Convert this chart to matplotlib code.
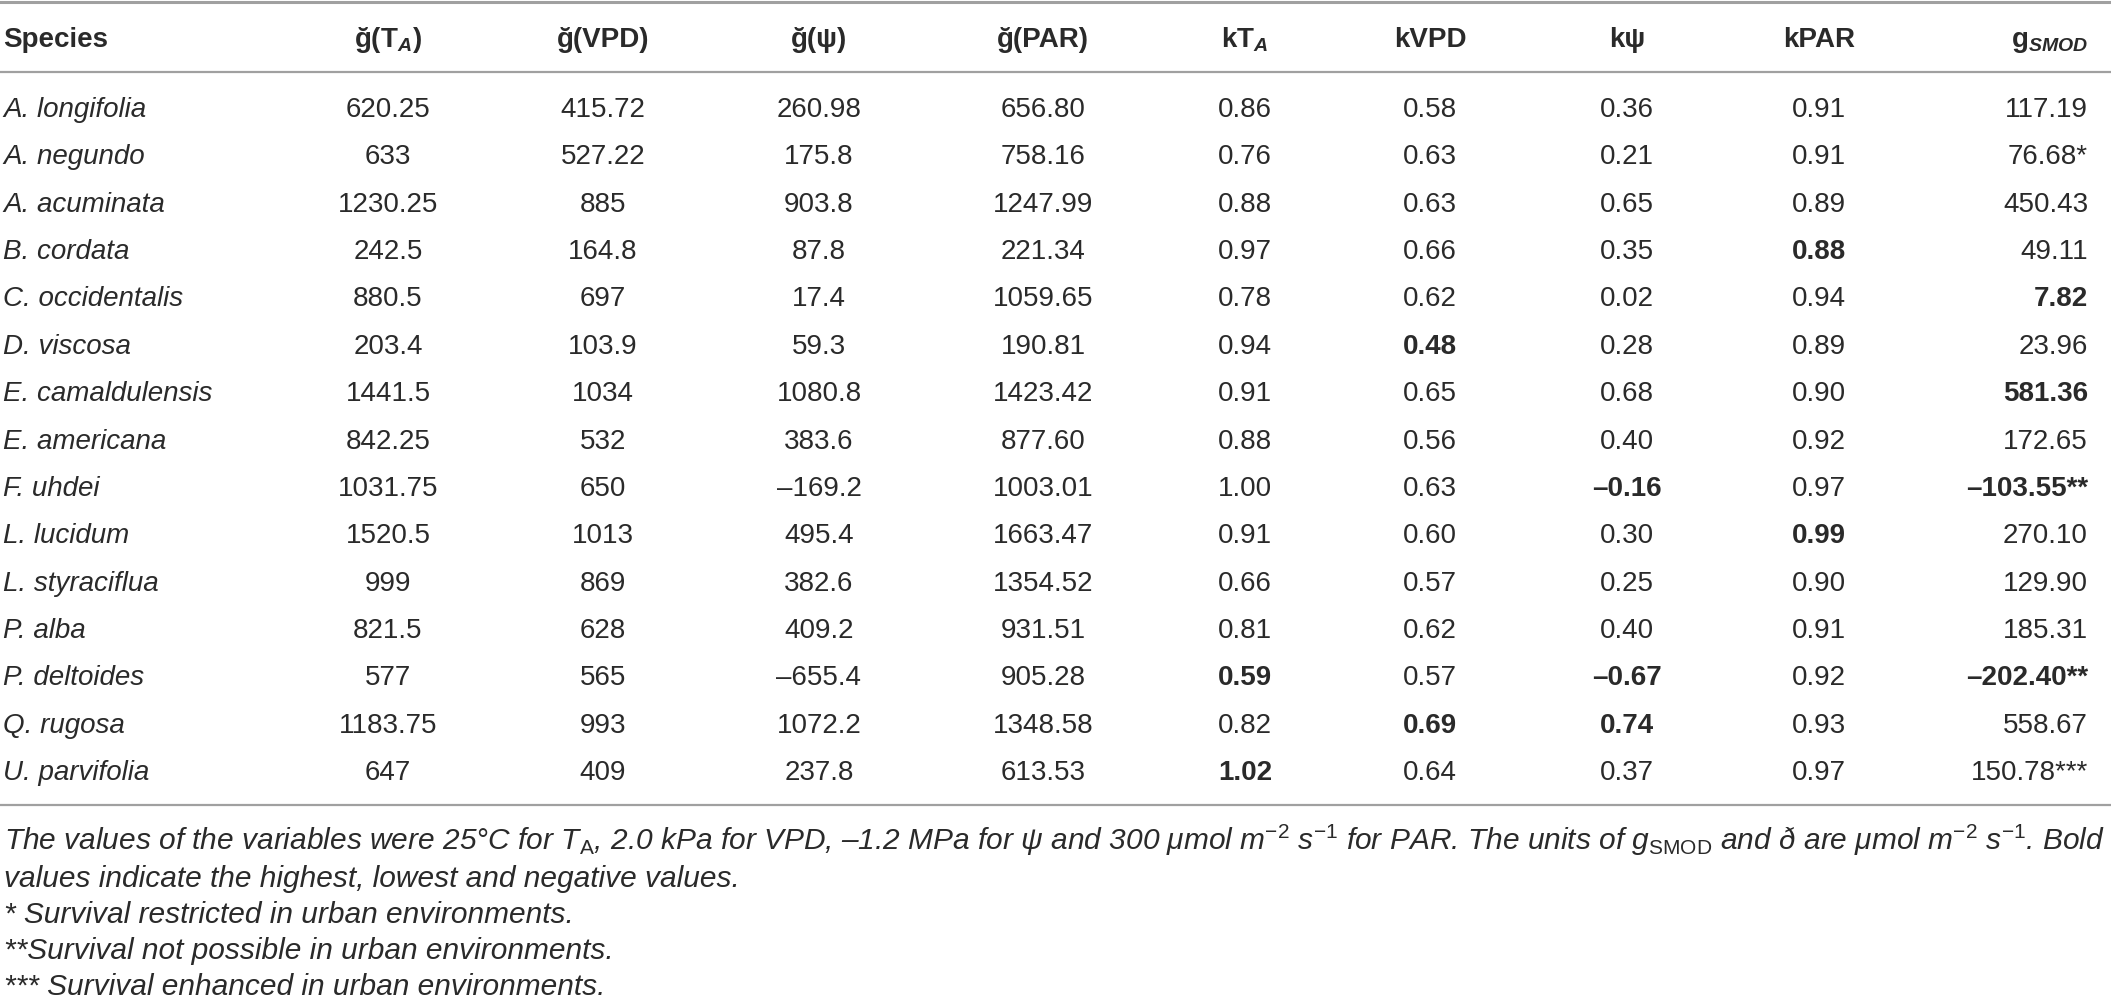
import matplotlib
matplotlib.use("Agg")
import matplotlib.pyplot as plt

# table contents
species = ["A. longifolia", "A. negundo", "A. acuminata", "B. cordata", "C. occidentalis",
           "D. viscosa", "E. camaldulensis", "E. americana", "F. uhdei", "L. lucidum",
           "L. styraciflua", "P. alba", "P. deltoides", "Q. rugosa", "U. parvifolia"]
g_ta = ["620.25", "633", "1230.25", "242.5", "880.5", "203.4", "1441.5", "842.25",
        "1031.75", "1520.5", "999", "821.5", "577", "1183.75", "647"]
g_vpd = ["415.72", "527.22", "885", "164.8", "697", "103.9", "1034", "532",
         "650", "1013", "869", "628", "565", "993", "409"]
g_psi = ["260.98", "175.8", "903.8", "87.8", "17.4", "59.3", "1080.8", "383.6",
         "–169.2", "495.4", "382.6", "409.2", "–655.4", "1072.2", "237.8"]
g_par = ["656.80", "758.16", "1247.99", "221.34", "1059.65", "190.81", "1423.42", "877.60",
         "1003.01", "1663.47", "1354.52", "931.51", "905.28", "1348.58", "613.53"]
k_ta = ["0.86", "0.76", "0.88", "0.97", "0.78", "0.94", "0.91", "0.88",
        "1.00", "0.91", "0.66", "0.81", "0.59", "0.82", "1.02"]
k_vpd = ["0.58", "0.63", "0.63", "0.66", "0.62", "0.48", "0.65", "0.56",
         "0.63", "0.60", "0.57", "0.62", "0.57", "0.69", "0.64"]
k_psi = ["0.36", "0.21", "0.65", "0.35", "0.02", "0.28", "0.68", "0.40",
         "–0.16", "0.30", "0.25", "0.40", "–0.67", "0.74", "0.37"]
k_par = ["0.91", "0.91", "0.89", "0.88", "0.94", "0.89", "0.90", "0.92",
         "0.97", "0.99", "0.90", "0.91", "0.92", "0.93", "0.97"]
g_smod = ["117.19", "76.68*", "450.43", "49.11", "7.82", "23.96", "581.36", "172.65",
          "–103.55**", "270.10", "129.90", "185.31", "–202.40**", "558.67", "150.78***"]

headers = ["Species", "ğ(T$_{\\mathbfit{A}}$)", "ğ(VPD)", "ğ(ψ)", "ğ(PAR)",
           "kT$_{\\mathbfit{A}}$", "kVPD", "kψ", "kPAR", "g$_{\\mathbfit{SMOD}}$"]

# (row, column) of the cells printed in bold
bold_cells = [(3, 8), (4, 9), (5, 6), (6, 9), (8, 7), (8, 9), (9, 8),
              (12, 5), (12, 7), (12, 9), (13, 6), (13, 7), (14, 5)]

notes = [
    "The values of the variables were 25°C for T$_\\mathrm{A}$, 2.0 kPa for VPD, –1.2 MPa for ψ and "
    "300 μmol m$^{-2}$ s$^{-1}$ for PAR. The units of g$_\\mathrm{SMOD}$ and ð are "
    "μmol m$^{-2}$ s$^{-1}$. Bold",
    "values indicate the highest, lowest and negative values.",
    "* Survival restricted in urban environments.",
    "**Survival not possible in urban environments.",
    "*** Survival enhanced in urban environments.",
]

plt.rcParams['font.family'] = ['Liberation Sans', 'DejaVu Sans']
plt.rcParams['mathtext.fontset'] = 'custom'
plt.rcParams['mathtext.rm'] = 'Liberation Sans'
plt.rcParams['mathtext.it'] = 'Liberation Sans:italic'
plt.rcParams['mathtext.bf'] = 'Liberation Sans:bold'
plt.rcParams['mathtext.bfit'] = 'Liberation Sans:italic:bold'

W, H = 2111, 999
fig = plt.figure(figsize=(W / 100, H / 100), dpi=100)
ax = fig.add_axes([0, 0, 1, 1])
ax.set_xlim(0, W)
ax.set_ylim(H, 0)
ax.axis('off')

ink = '#2a2a2a'
rule = '#a0a0a0'
fs = 20

columns = [species, g_ta, g_vpd, g_psi, g_par, k_ta, k_vpd, k_psi, k_par, g_smod]
col_x = [3, 388, 603, 819, 1043, 1245, 1430, 1627, 1819, 2088]
col_ha = ['left'] + ['center'] * 8 + ['right']

header_y = 37
row0, row_step = 107, 47.36
base = 10  # baseline sits below the row centre

ax.axhline(1.5, color=rule, lw=2.2)
ax.axhline(72, color=rule, lw=1.6)
ax.axhline(805, color=rule, lw=1.6)

for c, h in enumerate(headers):
    ax.text(col_x[c], header_y + base, h, ha=col_ha[c], va='baseline',
            fontsize=fs, fontweight='bold', color=ink)

for c, col in enumerate(columns):
    for r, val in enumerate(col):
        y = row0 + r * row_step + base
        ax.text(col_x[c], y, val, ha=col_ha[c], va='baseline', fontsize=fs, color=ink,
                fontstyle='italic' if c == 0 else 'normal',
                fontweight='bold' if (r, c) in bold_cells else 'normal')

# footnotes: first line runs the full width of the table
note_y = [840, 877, 913, 949, 985]
note_fs = 19
note_texts = []
for y, t in zip(note_y, notes):
    note_texts.append(ax.text(4, y + base, t, ha='left', va='baseline', fontsize=note_fs,
                              fontstyle='italic', color=ink))
fig.canvas.draw()
wide = note_texts[0].get_window_extent().width
note_fs = note_fs * (2104 - 4) / wide
for t in note_texts:
    t.set_fontsize(note_fs)

fig.savefig('out.png', dpi=100)
